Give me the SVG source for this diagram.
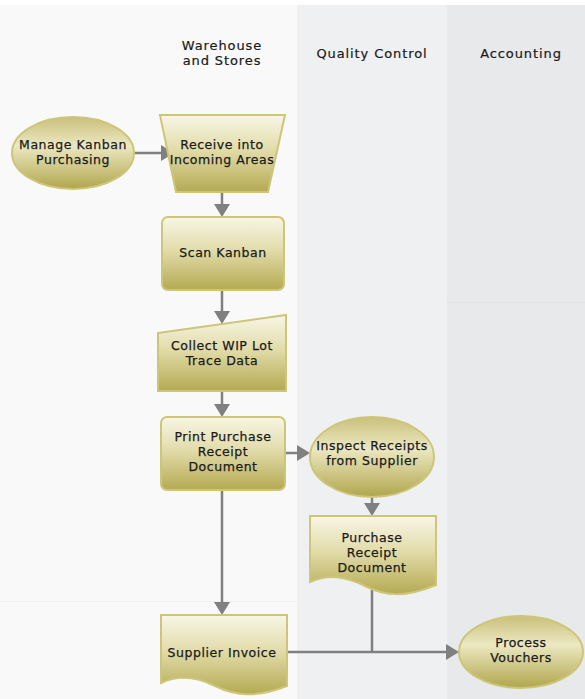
<svg xmlns="http://www.w3.org/2000/svg" width="585" height="699" viewBox="0 0 585 699">
<style>
.lbl{font-family:"DejaVu Sans","Liberation Sans",sans-serif;font-size:12.5px;letter-spacing:0.55px;fill:#1a1a1a;stroke:#1a1a1a;stroke-width:0.25;text-anchor:middle}
.hdr{font-family:"DejaVu Sans","Liberation Sans",sans-serif;font-size:13px;letter-spacing:0.9px;fill:#1a1a1a;stroke:#1a1a1a;stroke-width:0.2;text-anchor:middle}
.box{fill:url(#gRect);stroke:#cdc67a;stroke-width:2}
.oval{fill:url(#gOval);stroke:#cdc67a;stroke-width:2}
.conn{fill:none;stroke:#808080;stroke-width:2.5}
</style>
<defs>
<linearGradient id="gRect" x1="0" y1="0" x2="0" y2="1">
<stop offset="0" stop-color="#f8f6e6"/>
<stop offset="0.45" stop-color="#e2dcaa"/>
<stop offset="1" stop-color="#b4aa52"/>
</linearGradient>
<linearGradient id="gOval" x1="0" y1="0" x2="0" y2="1">
<stop offset="0" stop-color="#c9c07a"/>
<stop offset="0.4" stop-color="#ece8c2"/>
<stop offset="1" stop-color="#b0a64c"/>
</linearGradient>
<marker id="arr" markerUnits="userSpaceOnUse" markerWidth="13" markerHeight="16" refX="9" refY="8" orient="auto">
<path d="M0,0 L13,8 L0,16 z" fill="#808080"/>
</marker>
</defs>

<g id="lanes">
<rect x="0" y="0" width="585" height="699" fill="#ffffff"/>
<rect x="0" y="5" width="297" height="694" fill="#f9f9f9"/>
<rect x="297" y="5" width="150" height="694" fill="#eff0f2"/>
<rect x="447" y="5" width="138" height="694" fill="#e8e9eb"/>
<line x1="447" y1="302.5" x2="585" y2="302.5" stroke="#e1e2e4" stroke-width="1"/>
<line x1="0" y1="601.5" x2="297" y2="601.5" stroke="#f0f0f0" stroke-width="1"/>
<text class="hdr" x="222" y="50">Warehouse</text>
<text class="hdr" x="222" y="65.3">and Stores</text>
<text class="hdr" x="372" y="58">Quality Control</text>
<text class="hdr" x="521" y="58">Accounting</text>
</g>

<g id="connectors">
<path class="conn" d="M135,153 H170" marker-end="url(#arr)"/>
<path class="conn" d="M222,192 V213" marker-end="url(#arr)"/>
<path class="conn" d="M222,290 V320" marker-end="url(#arr)"/>
<path class="conn" d="M222,391 V413" marker-end="url(#arr)"/>
<path class="conn" d="M285,453 H306" marker-end="url(#arr)"/>
<path class="conn" d="M372,497 V512" marker-end="url(#arr)"/>
<path class="conn" d="M222,490 V611" marker-end="url(#arr)"/>
<path class="conn" d="M287,652 H455" marker-end="url(#arr)"/>
<path class="conn" d="M372,586 V652"/>
</g>

<g id="manage-kanban">
<ellipse class="oval" cx="73" cy="153" rx="61" ry="36"/>
<text class="lbl" x="73" y="149">Manage Kanban</text>
<text class="lbl" x="73" y="164">Purchasing</text>
</g>

<g id="receive-incoming">
<path class="box" d="M160,115 H285 L268,192 H176 Z"/>
<text class="lbl" x="222" y="149">Receive into</text>
<text class="lbl" x="222" y="164">Incoming Areas</text>
</g>

<g id="scan-kanban">
<rect class="box" x="162" y="217" width="122" height="73" rx="6"/>
<text class="lbl" x="223" y="257">Scan Kanban</text>
</g>

<g id="collect-wip">
<path class="box" d="M158,333 L286,315 V391 H158 Z"/>
<text class="lbl" x="222" y="350">Collect WIP Lot</text>
<text class="lbl" x="222" y="365">Trace Data</text>
</g>

<g id="print-receipt">
<rect class="box" x="161" y="417" width="124" height="73" rx="6"/>
<text class="lbl" x="223" y="441">Print Purchase</text>
<text class="lbl" x="223" y="456">Receipt</text>
<text class="lbl" x="223" y="471">Document</text>
</g>

<g id="inspect-receipts">
<ellipse class="oval" cx="372" cy="457" rx="62" ry="40"/>
<text class="lbl" x="372" y="450">Inspect Receipts</text>
<text class="lbl" x="372" y="464.8">from Supplier</text>
</g>

<g id="purchase-receipt-doc">
<path class="box" d="M310,516 H436 V585 C405,598 385,596 365,586 C345,576 328,574 310,582 Z"/>
<text class="lbl" x="372" y="541.5">Purchase</text>
<text class="lbl" x="372" y="556.5">Receipt</text>
<text class="lbl" x="372" y="571.5">Document</text>
</g>

<g id="supplier-invoice">
<path class="box" d="M161,615 H287 V686 C256,698 236,696 215,686 C195,676 178,675 161,683 Z"/>
<text class="lbl" x="222" y="657">Supplier Invoice</text>
</g>

<g id="process-vouchers">
<ellipse class="oval" cx="521" cy="652" rx="62" ry="36"/>
<text class="lbl" x="521" y="647">Process</text>
<text class="lbl" x="521" y="662">Vouchers</text>
</g>
</svg>
